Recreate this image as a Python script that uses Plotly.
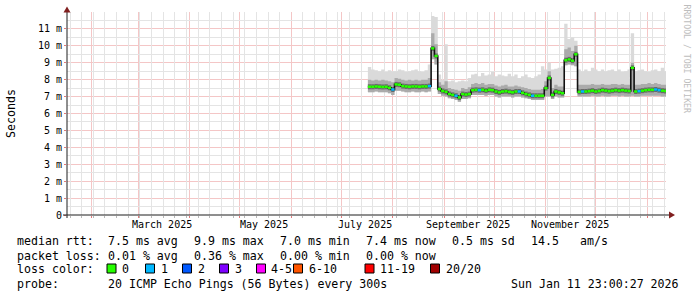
import pandas as pd
import plotly.graph_objects as go

# ---------------- data ----------------
sample_start = "2025-07-17"          # first RRD sample shown
sample_step_days = 2                  # consolidated sample spacing

median_ms = [
    7.58, 7.58, 7.60, 7.58, 7.57, 7.58, 7.52, 7.42, 7.72, 7.70,
    7.62, 7.60, 7.58, 7.60, 7.60, 7.58, 7.60, 7.60, 7.62, 9.85,
    9.40, 7.45, 7.33, 7.28, 7.15, 7.10, 7.05, 6.95, 7.15, 7.12,
    7.15, 7.38, 7.40, 7.38, 7.40, 7.35, 7.40, 7.38, 7.30, 7.25,
    7.30, 7.32, 7.28, 7.25, 7.30, 7.30, 7.22, 7.15, 7.10, 7.05,
    7.05, 7.05, 7.05, 7.50, 8.10, 7.10, 7.30, 7.25, 7.20, 9.15,
    9.20, 9.12, 9.50, 7.28, 7.30, 7.30, 7.32, 7.35, 7.30, 7.33,
    7.38, 7.35, 7.32, 7.35, 7.38, 7.35, 7.38, 7.35, 7.33, 8.70,
    7.30, 7.32, 7.35, 7.38, 7.40, 7.40, 7.42, 7.38, 7.35, 7.33,
]
smoke_hi_ms = [
    8.75, 8.60, 8.55, 8.50, 8.60, 8.45, 8.55, 8.50, 8.50, 8.60,
    8.55, 8.45, 8.50, 8.55, 8.60, 8.50, 8.45, 8.55, 8.90, 11.76,
    11.70, 8.30, 8.00, 10.10, 7.90, 7.95, 7.85, 7.90, 7.95, 7.90,
    8.10, 8.30, 8.35, 8.20, 8.40, 8.25, 8.30, 8.45, 8.20, 8.30,
    8.25, 8.20, 8.35, 8.20, 8.30, 8.10, 8.20, 8.30, 8.15, 8.10,
    8.20, 8.30, 8.80, 8.60, 9.00, 8.60, 8.65, 8.70, 8.80, 11.30,
    10.40, 10.50, 10.30, 8.60, 8.50, 8.60, 8.50, 8.70, 8.60, 8.50,
    8.60, 8.50, 8.55, 8.60, 8.50, 8.60, 8.45, 8.50, 8.60, 10.75,
    8.50, 8.55, 8.60, 8.50, 8.45, 8.55, 8.60, 8.50, 8.70, 8.50,
]
smoke_mid_ms = [
    8.00, 7.95, 8.00, 7.95, 8.00, 7.95, 7.90, 7.85, 8.10, 8.05,
    8.00, 7.95, 8.00, 7.95, 8.00, 7.95, 8.00, 8.00, 8.10, 10.75,
    10.10, 7.85, 7.70, 7.90, 7.50, 7.45, 7.40, 7.35, 7.50, 7.45,
    7.55, 7.75, 7.80, 7.75, 7.80, 7.70, 7.75, 7.75, 7.65, 7.60,
    7.65, 7.70, 7.60, 7.60, 7.65, 7.60, 7.55, 7.50, 7.45, 7.40,
    7.40, 7.40, 7.45, 7.90, 8.50, 7.50, 7.70, 7.60, 7.60, 9.80,
    9.90, 9.70, 10.00, 7.70, 7.70, 7.70, 7.70, 7.75, 7.70, 7.70,
    7.75, 7.70, 7.70, 7.75, 7.75, 7.70, 7.75, 7.70, 7.70, 9.00,
    7.70, 7.70, 7.75, 7.75, 7.80, 7.75, 7.80, 7.75, 7.70, 7.70,
]
smoke_lo_ms = [
    7.25, 7.25, 7.30, 7.25, 7.25, 7.25, 7.20, 7.10, 7.35, 7.35,
    7.30, 7.25, 7.25, 7.30, 7.25, 7.25, 7.30, 7.25, 7.30, 9.20,
    8.90, 7.15, 7.05, 7.00, 6.90, 6.85, 6.80, 6.70, 6.85, 6.85,
    6.90, 7.10, 7.10, 7.10, 7.10, 7.05, 7.10, 7.10, 7.00, 6.95,
    7.00, 7.00, 7.00, 6.95, 7.00, 7.00, 6.95, 6.90, 6.85, 6.80,
    6.80, 6.80, 6.80, 7.00, 7.00, 6.85, 7.00, 6.95, 6.95, 8.85,
    8.90, 8.85, 8.80, 7.00, 7.00, 7.00, 7.00, 7.05, 7.00, 7.00,
    7.05, 7.00, 7.00, 7.05, 7.05, 7.00, 7.05, 7.00, 7.00, 7.05,
    7.00, 7.00, 7.05, 7.05, 7.05, 7.05, 7.05, 7.05, 7.00, 7.00,
]
loss_count = [
    0, 0, 0, 0, 0, 0, 0, 1, 0, 0,
    0, 0, 0, 0, 0, 0, 0, 0, 1, 0,
    0, 0, 0, 0, 0, 0, 1, 0, 0, 0,
    0, 0, 0, 1, 0, 0, 0, 0, 0, 0,
    0, 0, 0, 0, 0, 1, 0, 0, 0, 1,
    0, 0, 0, 0, 0, 0, 0, 0, 0, 0,
    0, 0, 0, 0, 1, 0, 0, 0, 0, 0,
    0, 0, 0, 0, 0, 0, 0, 0, 0, 0,
    0, 1, 0, 0, 0, 0, 1, 1, 0, 0,
]

x_range = ["2025-01-17 04:00", "2026-01-12 04:00"]
y_range = [0, 12]
y_tick_vals = [0, 1, 2, 3, 4, 5, 6, 7, 8, 9, 10, 11]
y_tick_text = ["0", "1 m", "2 m", "3 m", "4 m", "5 m", "6 m", "7 m", "8 m", "9 m", "10 m", "11 m"]
y_minor_vals = [0.5, 1.5, 2.5, 3.5, 4.5, 5.5, 6.5, 7.5, 8.5, 9.5, 10.5, 11.5, 11.98]
month_label_text = ["March 2025", "May 2025", "July 2025", "September 2025", "November 2025"]
month_label_dates = ["2025-03-15 10:00", "2025-05-15 12:00", "2025-07-15 06:00",
                     "2025-09-15 04:00", "2025-11-15 06:00"]

loss_legend = [("0", "#26ff00"), ("1", "#00b8ff"), ("2", "#0059ff"), ("3", "#7e00ff"),
               ("4-5", "#ff00ff"), ("6-10", "#ff5500"), ("11-19", "#ff0000"), ("20/20", "#a10000")]
loss_color_by_count = {0: "#26ff00", 1: "#00b8ff"}

stats_rtt = ["7.5 ms avg", "9.9 ms max", "7.0 ms min", "7.4 ms now", "0.5 ms sd", "14.5", "am/s"]
stats_loss = ["0.01 % avg", "0.36 % max", "0.00 % min", "0.00 % now"]
probe_text = "20 ICMP Echo Pings (56 Bytes) every 300s"
stamp_text = "Sun Jan 11 23:00:27 2026"

# ---------------- geometry / style ----------------
W, H = 697, 297
ML, MR, MT, MB = 67, 31, 12, 82
PW, PH = W - ML - MR, H - MT - MB
MONO = "DejaVu Sans Mono"


def px(x, y):
    return (x - ML) / PW, (H - MB - y) / PH


step = pd.Timedelta(days=sample_step_days)
times = list(pd.date_range(sample_start, periods=len(median_ms), freq=step))
tx = times + [times[-1] + step]


def ext(v):
    return list(v) + [v[-1]]


fig = go.Figure()
common = dict(mode="lines", hoverinfo="skip", showlegend=False)

# empty helper trace that carries the minor-grid overlay axes
fig.add_trace(go.Scatter(x=[], y=[], xaxis="x2", yaxis="y2", **common))

# smoke: outer band
fig.add_trace(go.Scatter(x=tx, y=ext(smoke_lo_ms), line=dict(width=0, shape="hv"), **common))
fig.add_trace(go.Scatter(x=tx, y=ext(smoke_hi_ms), fill="tonexty", fillcolor="#dadada",
                         line=dict(width=0, shape="hv"), **common))
# smoke: inner band
fig.add_trace(go.Scatter(x=tx, y=ext(smoke_lo_ms), line=dict(width=0, shape="hv"), **common))
fig.add_trace(go.Scatter(x=tx, y=ext(smoke_mid_ms), fill="tonexty", fillcolor="#ababab",
                         line=dict(width=0, shape="hv"), **common))


def segments(mask):
    xs, ys = [], []
    for i, v in enumerate(median_ms):
        if mask(i):
            xs += [tx[i], tx[i + 1], None]
            ys += [v, v, None]
    return xs, ys


# dark core of the smoke around the median
sx, sy = segments(lambda i: True)
fig.add_trace(go.Scatter(x=sx, y=sy, line=dict(width=5, color="#6a6a6a"), **common))
# median steps (vertical jumps show in black)
fig.add_trace(go.Scatter(x=tx, y=ext(median_ms), line=dict(width=1.6, color="#111111", shape="hv"), **common))
# median coloured by loss
for cnt, col in loss_color_by_count.items():
    sx, sy = segments(lambda i, c=cnt: loss_count[i] == c)
    fig.add_trace(go.Scatter(x=sx, y=sy, line=dict(width=2.5, color=col), **common))

MAJ = "#f4c6c6"
MAJ_TICK = "#e27a7a"
MIN = "#e4e4e4"
MIN_TICK = "#b8b8b8"

month_starts = list(pd.date_range("2025-02-01", "2026-01-01", freq="MS"))
week_starts = [d for d in pd.date_range("2025-01-19", "2026-01-11", freq="W-SUN") if d.day != 1]

fig.update_layout(
    xaxis=dict(type="date", range=x_range, tickmode="array", tickvals=month_starts,
               ticktext=[""] * len(month_starts), showgrid=True, gridcolor=MAJ,
               gridwidth=1, ticks="outside", ticklen=2, tickcolor=MAJ_TICK, showline=False,
               zeroline=False, fixedrange=True),
    yaxis=dict(range=y_range, tickmode="array", tickvals=y_tick_vals, ticktext=y_tick_text,
               tickfont=dict(family=MONO, size=10, color="#000000"), showgrid=True,
               gridcolor=MAJ, gridwidth=1, ticks="outside", ticklen=2,
               tickcolor=MAJ_TICK, showline=False, zeroline=False, fixedrange=True),
    xaxis2=dict(type="date", range=x_range, overlaying="x", anchor="y", side="bottom",
                tickmode="array", tickvals=week_starts, showticklabels=False, showgrid=True,
                gridcolor=MIN, gridwidth=1, ticks="outside", ticklen=2,
                tickcolor=MIN_TICK, showline=False, zeroline=False, fixedrange=True),
    yaxis2=dict(range=y_range, overlaying="y", anchor="x", side="left", tickmode="array",
                tickvals=y_minor_vals, showticklabels=False, showgrid=True, gridcolor=MIN,
                gridwidth=1, ticks="", showline=False, zeroline=False, fixedrange=True),
)

shapes = []
AX = "#1f1f1f"
ARROW = "#801f1f"
x0p, y0p = px(63, 215)
x1p, _ = px(670, 215)
shapes.append(dict(type="line", xref="paper", yref="paper", x0=x0p, y0=y0p, x1=x1p, y1=y0p,
                   line=dict(color=AX, width=1)))
ya, yb = px(67, 218)[1], px(67, 11)[1]
shapes.append(dict(type="line", xref="paper", yref="paper", x0=0, y0=ya, x1=0, y1=yb,
                   line=dict(color=AX, width=1)))


def path(pts):
    s = ""
    for k, (a, b) in enumerate(pts):
        pa, pb = px(a, b)
        s += ("M" if k == 0 else "L") + f"{pa:.5f},{pb:.5f} "
    return s + "Z"


shapes.append(dict(type="path", xref="paper", yref="paper",
                   path=path([(63.5, 12.5), (70.5, 12.5), (67, 6.5)]),
                   fillcolor=ARROW, line=dict(width=0)))
shapes.append(dict(type="path", xref="paper", yref="paper",
                   path=path([(669, 211.5), (669, 218.5), (675, 215)]),
                   fillcolor=ARROW, line=dict(width=0)))

ann = []
FS = 11.6


def text(x, y, s, size=FS, color="#000000", angle=0, xanchor="left"):
    a, b = px(x, y)
    ann.append(dict(x=a, y=b, xref="paper", yref="paper", text=s, showarrow=False,
                    xanchor=xanchor, yanchor="middle", textangle=angle, borderpad=0,
                    font=dict(family=MONO, size=size, color=color)))


# month labels (positioned on the date axis)
for d, s in zip(month_label_dates, month_label_text):
    ann.append(dict(x=d, y=px(0, 224.5)[1], xref="x", yref="paper", text=s, showarrow=False,
                    xanchor="center", yanchor="middle", borderpad=0,
                    font=dict(family=MONO, size=10, color="#000000")))

text(10.5, 113.5, "Seconds", angle=-90, xanchor="center")
text(686.5, 59, "RRDTOOL / TOBI OETIKER", size=8.2, color="#bdbdbd", angle=90, xanchor="center")

cols = [107, 193, 279, 365, 451, 530.5, 579]
text(15.5, 241, "median rtt:")
for c, s in zip(cols, stats_rtt):
    text(c - 0.5, 241, s)
text(15.5, 255.5, "packet loss:")
for c, s in zip(cols, stats_loss):
    text(c - 0.5, 255.5, s)
text(15.5, 269, "loss color:")
box_x = [107, 145.5, 182.5, 219.5, 256.5, 293.5, 365, 430.5]
label_dx = [14, 14, 14, 14, 13.5, 14, 14, 14]
for bx, dx, (lab, col) in zip(box_x, label_dx, loss_legend):
    a0, b0 = px(bx, 273)
    a1, b1 = px(bx + 9, 264)
    shapes.append(dict(type="rect", xref="paper", yref="paper", x0=a0, y0=b0, x1=a1, y1=b1,
                       fillcolor=col, line=dict(color="#000000", width=1)))
    text(bx + dx, 269, lab)
text(15.5, 283.5, "probe:")
text(106.5, 283.5, probe_text)
text(680.5, 283.5, stamp_text, xanchor="right")

fig.update_layout(
    width=W, height=H, margin=dict(l=ML, r=MR, t=MT, b=MB, autoexpand=False),
    paper_bgcolor="#ffffff", plot_bgcolor="#ffffff", showlegend=False,
    shapes=shapes, annotations=ann, font=dict(family=MONO, size=10, color="#000000"),
)

fig.write_html("out.html")
